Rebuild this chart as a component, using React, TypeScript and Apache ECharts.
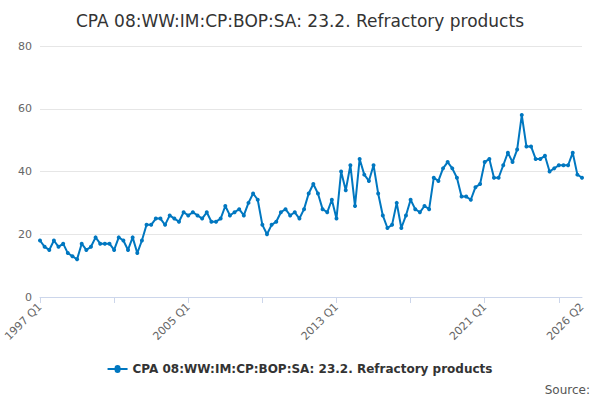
import { useEffect, useRef } from "react";
import * as echarts from "echarts";

const quarters: string[] = [];
for (let y = 1997; y <= 2026; y++) {
  for (let q = 1; q <= 4; q++) {
    if (y === 2026 && q > 2) break;
    quarters.push(`${y} Q${q}`);
  }
}

const values = [
  18, 16, 15, 18, 16, 17, 14, 13, 12, 17, 15, 16, 19, 17, 17, 17,
  15, 19, 18, 15, 19, 14, 18, 23, 23, 25, 25, 23, 26, 25, 24, 27,
  26, 27, 26, 25, 27, 24, 24, 25, 29, 26, 27, 28, 26, 30, 33, 31,
  23, 20, 23, 24, 27, 28, 26, 27, 25, 28, 33, 36, 33, 28, 27, 31,
  25, 40, 34, 42, 29, 44, 39, 37, 42, 33, 26, 22, 23, 30, 22, 26,
  31, 28, 27, 29, 28, 38, 37, 41, 43, 41, 38, 32, 32, 31, 35, 36,
  43, 44, 38, 38, 42, 46, 43, 47, 58, 48, 48, 44, 44, 45, 40, 41,
  42, 42, 42, 46, 39, 38,
];

const seriesName = "CPA 08:WW:IM:CP:BOP:SA: 23.2. Refractory products";
const font = "DejaVu Sans";

export default function App() {
  const ref = useRef<HTMLDivElement | null>(null);

  useEffect(() => {
    if (!ref.current) return;
    const chart = echarts.init(ref.current, undefined, { renderer: "svg" });
    const last = quarters.length - 1;
    chart.setOption({
      animation: false,
      backgroundColor: "#fff",
      textStyle: { fontFamily: font },
      title: {
        text: seriesName,
        left: "center",
        top: 7,
        textStyle: { fontFamily: font, fontSize: 17, fontWeight: "normal", color: "#333" },
      },
      grid: { left: 40, right: 18, top: 46, bottom: 103 },
      legend: {
        bottom: 20,
        left: "center",
        data: [seriesName],
        icon: "path://M0,4h7a3,3 0 1 1 6,0h7v2h-7a3,3 0 1 1 -6,0h-7z",
        itemWidth: 20,
        itemHeight: 8,
        textStyle: { fontFamily: font, fontSize: 12, fontWeight: "bold", color: "#333" },
      },
      graphic: [
        {
          type: "text",
          right: 10,
          bottom: 4,
          style: { text: "Source:", font: `12px "${font}"`, fill: "#555" },
        },
      ],
      xAxis: {
        type: "category",
        data: quarters,
        boundaryGap: false,
        axisLine: { lineStyle: { color: "#ccd6eb" } },
        axisTick: { interval: 15, lineStyle: { color: "#ccd6eb" }, length: 6 },
        axisLabel: {
          interval: (i: number) => i % 32 === 0 || i === last,
          rotate: 45,
          color: "#666",
          fontSize: 11,
          fontFamily: font,
        },
      },
      yAxis: {
        type: "value",
        min: 0,
        max: 80,
        interval: 20,
        axisLabel: { color: "#666", fontSize: 11, fontFamily: font },
        splitLine: { lineStyle: { color: "#e6e6e6" } },
      },
      series: [
        {
          type: "line",
          name: seriesName,
          data: values,
          symbol: "circle",
          symbolSize: 4,
          showAllSymbol: true,
          color: "#0077c0",
          lineStyle: { width: 2, color: "#0077c0" },
        },
      ],
    });
    return () => chart.dispose();
  }, []);

  return <div ref={ref} style={{ position: "fixed", left: 0, top: 0, width: 600, height: 400 }} />;
}
